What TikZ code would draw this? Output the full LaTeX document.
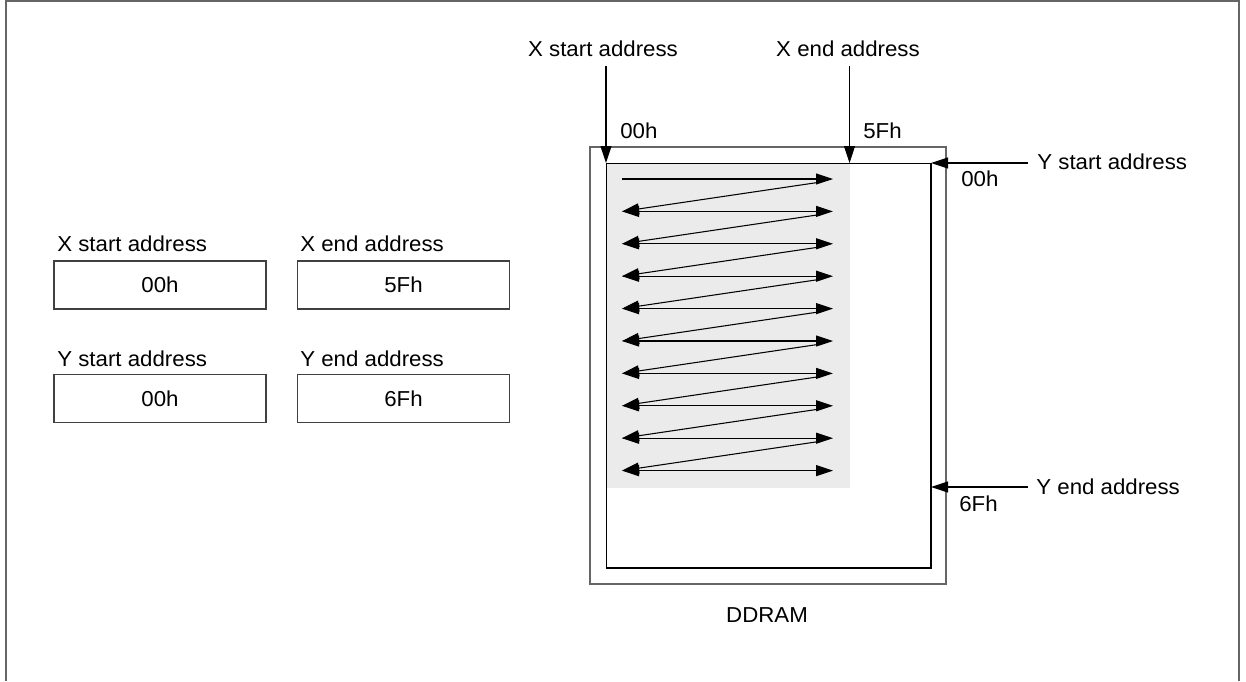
\documentclass[tikz,border=0pt]{standalone}
\usepackage{fontspec}
\setmainfont{Liberation Sans}[FakeStretch=1.03]
\usetikzlibrary{arrows.meta}
\definecolor{areagray}{HTML}{EBEBEB}
\begin{document}
\begin{tikzpicture}[x=0.02cm,y=-0.02cm,
  font=\fontsize{12.3}{14}\selectfont,
  tip/.tip={Triangle[length=0.34cm,width=0.22cm]},
  arr/.style={-tip, line width=0.6pt},
  darr/.style={tip-tip, line width=0.6pt},
  lbl/.style={inner sep=0pt, anchor=base west},
  clbl/.style={inner sep=0pt, anchor=base},
  valbox/.style={draw=black!75, line width=0.8pt, minimum width=4.24cm, minimum height=0.96cm, inner sep=0pt},
  frame/.style={draw=black!60, line width=1.2pt}]
\useasboundingbox (0,0) rectangle (1246,681);
\draw[frame] (6,681) -- (6,1) -- (1239,1) -- (1239,681);

% left register boxes
\node[lbl] (xsl) at (57,251) {X start address};
\node[lbl] (xel) at (300,251) {X end address};
\node[valbox] (xsv) at (160,285) {00h};
\node[valbox] (xev) at (403.5,285) {5Fh};
\node[lbl] (ysl) at (57,366) {Y start address};
\node[lbl] (yel) at (300,366) {Y end address};
\node[valbox] (ysv) at (160,398.5) {00h};
\node[valbox] (yev) at (403.5,398.5) {6Fh};

% DDRAM
\node[draw=black!60, line width=1pt, minimum width=7.12cm, minimum height=8.74cm, inner sep=0pt] (outer) at (768,365.5) {};
\node[fill=areagray, minimum width=4.87cm, minimum height=6.5cm, inner sep=0pt, anchor=north west] (area) at (606,163) {};
\node[draw=black, line width=0.6pt, minimum width=6.5cm, minimum height=8.1cm, inner sep=0pt] (inner) at (768.5,365.5) {};
\node[clbl] (ddram) at (767,622) {DDRAM};

% top labels and arrows
\node[clbl] (xst) at (603,56) {X start address};
\node[clbl] (xet) at (848,56) {X end address};
\node[lbl] (x00) at (620,138) {00h};
\node[lbl] (x5f) at (863,138) {5Fh};
\coordinate (xsA) at (606,66);
\coordinate (xsB) at (606,163);
\coordinate (xeA) at (849.5,66);
\coordinate (xeB) at (849.5,163);
\draw[arr] (xsA) -- (xsB);
\draw[arr] (xeA) -- (xeB);

% right labels and arrows
\node[lbl] (yst) at (1037,169) {Y start address};
\node[lbl] (y00) at (961,186) {00h};
\node[lbl] (yet) at (1036,494) {Y end address};
\node[lbl] (y6f) at (959,511) {6Fh};
\coordinate (ysA) at (1028,163);
\coordinate (ysB) at (931,163);
\coordinate (yeA) at (1028,487);
\coordinate (yeB) at (931,487);
\draw[arr] (ysA) -- (ysB);
\draw[arr] (yeA) -- (yeB);

% zigzag scan
\foreach \i in {1,...,10} {
  \pgfmathsetmacro{\yy}{179+(\i-1)*32.4}
  \coordinate (L\i) at (622,\yy);
  \coordinate (R\i) at (833,\yy);
  \coordinate (D\i) at (821,\yy+3);
}
\draw[arr] (L1) -- (R1);
\foreach \i in {2,...,10} { \draw[darr] (L\i) -- (R\i); }
\foreach \i [evaluate=\i as \j using int(\i+1)] in {1,...,9} { \draw[arr] (D\i) -- (L\j); }
\end{tikzpicture}
\end{document}
